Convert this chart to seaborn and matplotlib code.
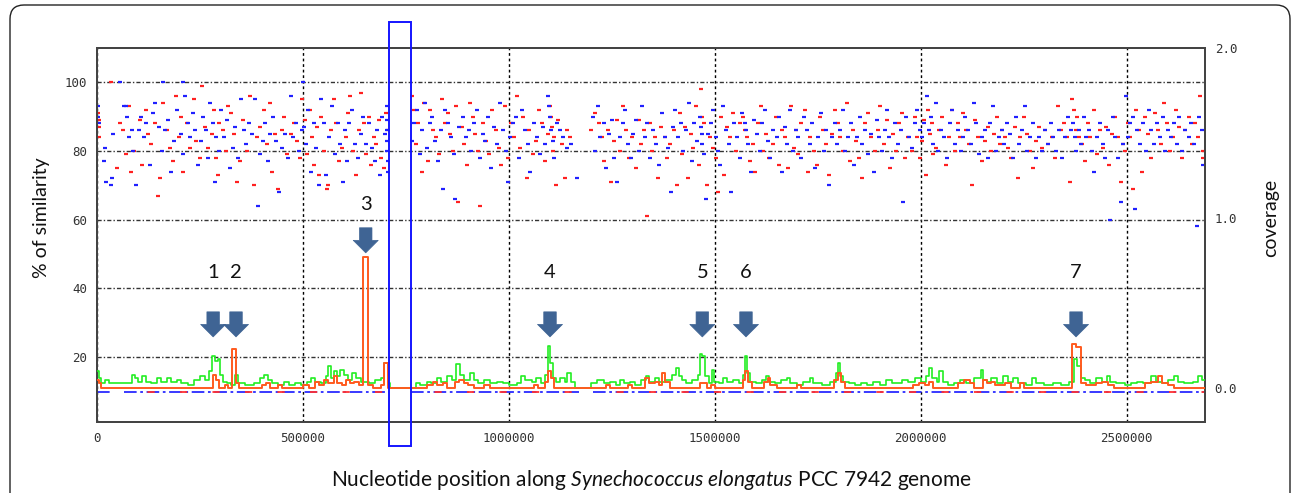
import numpy as np
import pandas as pd
import matplotlib
matplotlib.use("Agg")
import matplotlib.pyplot as plt
import matplotlib.transforms as mtransforms
from matplotlib.patches import FancyBboxPatch, Rectangle
import seaborn as sns

# ---------------- data (x in kb) ----------------
red_pts = [(3,91),(4,87),(5,84),(6,89),(35,100),(48,75),(55,88),(62,86),(70,79),(78,93),(82,74),(90,80),
 (105,89),(110,76),(118,92),(125,85),(132,82),(140,88),(148,67),(153,72),(160,94),(170,86),(178,81),(185,77),(192,96),(198,84),
 (205,90),(210,74),(218,88),(225,81),(235,95),(240,83),(250,78),(255,99),(262,87),(270,81),(278,85),(283,92),(288,78),(293,73),(297,88),
 (305,86),(312,80),(318,93),(325,91),(333,85),(340,71),(348,77),(355,89),(365,80),(372,96),(380,70),(388,84),(395,87),
 (405,92),(412,82),(420,94),(425,74),(432,85),(440,69),(448,86),(455,90),(462,79),(470,85),(478,88),(485,83),(492,78),(497,95),
 (505,89),(510,79),(518,92),(522,84),(528,76),(535,87),(540,73),(545,90),(552,80),(558,69),(562,70),(568,86),(575,95),(580,88),(588,77),(595,81),
 (605,84),(610,91),(615,96),(622,80),(628,73),(635,86),(642,97),(648,88),(652,79),(660,90),(665,76),(672,84),(678,82),(685,89),(690,78),(696,75),(702,91),(706,86),
 (765,96),(770,92),(775,82),(780,88),(788,74),(795,94),
 (803,77),(808,92),(815,86),(822,84),(830,79),(838,95),(845,88),(852,91),(858,85),(865,80),(872,93),(877,65),(885,87),(892,82),(898,76),
 (905,94),(912,90),(918,85),(925,80),(930,64),(938,88),(945,83),(952,79),(960,92),(968,86),(975,81),(982,76),(990,93),(997,78),
 (1005,88),(1012,84),(1020,96),(1028,81),(1035,90),(1043,72),(1050,86),(1058,79),(1065,83),(1072,92),(1080,88),(1088,77),(1095,85),(1099,93),(1102,90),(1105,87),
 (1108,80),(1110,84),(1115,70),(1120,89),(1128,82),(1135,72),(1140,86),(1148,84),(1200,86),
 (1210,91),(1218,88),(1225,84),(1232,77),(1240,86),(1248,71),(1255,83),(1262,89),(1270,80),(1278,93),(1285,86),(1292,78),
 (1300,84),(1308,75),(1315,89),(1320,82),(1328,86),(1335,61),(1342,88),(1348,80),(1355,84),(1362,72),(1370,87),(1378,84),(1385,78),(1392,82),
 (1400,86),(1408,70),(1415,91),(1420,79),(1428,87),(1435,72),(1442,85),(1448,81),(1455,93),(1462,76),(1466,98),(1470,90),(1474,88),(1480,70),(1488,84),(1495,81),
 (1503,78),(1508,68),(1515,90),(1522,73),(1530,87),(1538,84),(1545,91),(1552,80),(1560,88),(1568,90),(1573,86),(1578,84),(1585,77),(1592,82),(1598,74),
 (1605,88),(1612,93),(1618,80),(1625,85),(1632,78),(1640,82),(1648,90),(1655,76),(1662,86),(1670,84),(1678,75),(1685,93),(1692,81),(1698,86),
 (1703,79),(1710,88),(1718,92),(1725,74),(1732,84),(1740,80),(1748,76),(1755,90),(1762,86),(1770,82),(1778,73),(1785,85),(1792,92),(1798,88),
 (1805,84),(1812,80),(1820,94),(1828,77),(1835,86),(1842,83),(1850,78),(1858,72),(1865,88),(1872,91),(1880,84),(1888,80),(1895,86),
 (1902,93),(1910,82),(1918,89),(1925,75),(1932,85),(1940,80),(1948,88),(1955,91),(1962,78),(1970,84),(1978,80),(1985,90),(1992,84),(1998,78),
 (2003,83),(2008,89),(2012,73),(2018,92),(2022,85),(2026,88),(2030,79),(2038,81),(2045,86),(2052,90),(2060,76),(2068,84),(2075,92),(2082,80),(2090,88),(2096,84),
 (2103,91),(2110,86),(2118,82),(2125,70),(2132,89),(2140,84),(2148,77),(2155,83),(2162,87),(2170,80),(2178,85),(2185,90),(2192,82),(2198,86),
 (2205,84),(2212,81),(2220,78),(2228,87),(2235,72),(2242,84),(2250,90),(2258,85),(2265,80),(2272,75),(2280,83),(2288,87),(2295,81),
 (2302,86),(2310,82),(2318,84),(2325,78),(2332,93),(2340,86),(2348,88),(2355,84),(2362,71),(2368,95),(2372,92),(2376,86),(2380,90),(2385,84),(2392,82),(2398,77),
 (2405,88),(2412,84),(2420,92),(2428,79),(2435,86),(2442,81),(2450,87),(2458,76),(2465,85),(2472,90),(2478,84),(2485,71),(2490,82),(2495,80),
 (2502,88),(2508,84),(2515,69),(2522,92),(2530,86),(2538,74),(2545,90),(2552,85),(2560,78),(2568,91),(2575,86),(2582,82),(2590,94),(2598,88),
 (2605,80),(2612,84),(2620,92),(2628,87),(2635,78),(2642,86),(2650,90),(2658,82),(2665,88),(2672,84),(2678,96),(2684,80),(2686,78)]

blue_pts = [(2,93),(3,90),(4,88),(18,77),(20,81),(23,71),(35,70),(37,72),(40,85),(55,100),(65,93),(70,93),(72,90),(78,84),(85,86),(88,80),(95,70),
 (102,86),(108,90),(115,84),(120,88),(128,76),(135,91),(142,94),(150,87),(158,80),(160,100),(165,86),(172,89),(180,74),(188,83),(195,92),
 (203,85),(208,79),(210,100),(214,96),(220,88),(226,84),(232,91),(238,86),(245,76),(252,83),(258,90),(264,86),(270,78),(275,94),(282,88),(286,71),(290,84),(295,80),
 (302,92),(308,84),(315,89),(322,75),(330,81),(336,87),(342,78),(350,95),(356,86),(362,82),(370,88),(376,85),(384,95),(390,64),(396,79),
 (402,83),(408,88),(414,77),(420,85),(428,90),(435,83),(442,68),(450,81),(456,85),(463,78),(470,96),(476,84),(483,88),(490,80),(497,86),(500,100),
 (502,87),(507,82),(513,92),(520,74),(527,88),(532,81),(538,70),(545,95),(550,88),(556,73),(563,84),(570,93),(577,79),(584,88),(590,82),(597,71),
 (603,86),(608,77),(613,88),(620,92),(626,82),(633,78),(640,85),(646,90),(654,82),(660,88),(667,81),(674,77),(680,86),(686,73),(692,90),(698,85),
 (703,93),(704,89),(704,86),(705,83),(705,80),(706,77),(706,74),
 (765,83),(770,88),(778,92),(783,79),(790,86),(797,94),
 (802,81),(808,88),(814,90),(820,83),(828,77),(835,86),(840,69),(846,92),(853,88),(860,84),(866,79),(870,66),(880,87),(888,90),(895,84),
 (902,86),(909,80),(916,88),(922,92),(929,78),(936,85),(943,83),(950,90),(957,75),(964,87),(971,82),(978,94),(985,86),(992,80),(998,71),
 (1003,84),(1010,88),(1018,90),(1025,78),(1032,92),(1040,86),(1046,82),(1052,74),(1060,88),(1068,84),(1075,79),(1082,87),(1088,82),(1094,96),(1097,93),(1100,90),(1103,86),(1106,83),
 (1110,78),(1118,88),(1125,86),(1132,84),(1140,81),(1150,82),(1165,72),
 (1205,90),(1210,80),(1216,93),(1222,84),(1230,88),(1236,75),(1242,85),(1250,89),(1256,78),(1262,71),(1270,84),(1276,88),(1283,92),(1290,82),(1296,78),
 (1302,85),(1309,89),(1316,80),(1322,93),(1330,84),(1336,88),(1343,78),(1350,86),(1358,82),(1365,76),(1372,91),(1379,84),(1386,81),(1393,68),(1398,87),
 (1403,92),(1410,84),(1417,88),(1423,80),(1430,86),(1437,94),(1444,77),(1450,88),(1457,83),(1463,90),(1466,87),(1468,85),(1470,82),(1474,79),(1478,66),(1484,85),(1490,88),(1496,92),
 (1502,84),(1507,80),(1513,76),(1520,93),(1527,86),(1534,82),(1540,68),(1547,88),(1554,84),(1560,78),(1567,91),(1572,88),(1576,86),(1581,82),(1588,74),(1594,89),
 (1602,85),(1609,80),(1615,88),(1622,92),(1628,83),(1635,78),(1642,86),(1650,84),(1656,90),(1663,74),(1670,87),(1676,82),(1683,92),(1690,80),(1696,86),
 (1703,84),(1710,78),(1716,90),(1723,86),(1730,82),(1737,88),(1744,75),(1750,84),(1757,91),(1764,80),(1771,86),(1778,70),(1785,84),(1791,88),(1797,82),
 (1803,86),(1810,92),(1817,80),(1823,84),(1830,88),(1838,76),(1845,84),(1852,90),(1858,82),(1865,86),(1872,79),(1880,85),(1887,74),(1893,89),(1898,84),
 (1905,80),(1912,86),(1918,92),(1924,84),(1931,78),(1938,88),(1945,82),(1952,86),(1958,65),(1965,90),(1972,84),(1979,81),(1986,88),(1992,92),(1997,86),
 (2002,84),(2008,88),(2014,96),(2020,86),(2025,90),(2030,82),(2036,94),(2042,80),(2050,86),(2056,84),(2063,78),(2070,88),(2076,92),(2083,82),(2090,86),(2097,80),
 (2102,84),(2108,90),(2115,86),(2122,82),(2128,94),(2135,88),(2142,79),(2148,84),(2155,86),(2162,78),(2168,88),(2175,93),(2182,80),(2190,84),(2197,86),
 (2203,82),(2210,88),(2217,85),(2224,78),(2231,90),(2238,82),(2245,86),(2252,93),(2259,80),(2266,84),(2273,88),(2280,78),(2287,84),(2294,80),
 (2301,86),(2308,82),(2315,88),(2322,84),(2329,80),(2336,86),(2343,78),(2350,84),(2357,90),(2364,86),(2370,88),(2374,84),(2378,80),(2383,86),(2390,82),(2396,90),
 (2402,84),(2408,86),(2415,80),(2421,74),(2428,84),(2435,88),(2442,82),(2448,78),(2455,86),(2460,60),(2466,90),(2472,84),(2478,78),(2485,65),(2491,82),(2497,96),
 (2503,84),(2508,88),(2514,90),(2520,63),(2526,86),(2533,82),(2540,88),(2547,80),(2554,92),(2560,86),(2567,82),(2574,88),(2580,84),(2587,90),(2594,80),
 (2600,86),(2607,84),(2614,88),(2621,82),(2628,90),(2635,80),(2642,86),(2650,84),(2657,88),(2664,82),(2670,58),(2676,90),(2682,86),(2686,76)]

green_steps = [(0,0.10),(5,0.06),(10,0.03),(20,0.05),(30,0.03),(75,0.03),(85,0.08),(92,0.06),(100,0.04),(110,0.07),(118,0.04),(130,0.03),
 (145,0.06),(155,0.04),(170,0.06),(180,0.04),(195,0.05),(205,0.03),(220,0.02),(235,0.05),(250,0.07),(262,0.05),(272,0.10),(280,0.19),
 (287,0.16),(293,0.17),(298,0.08),(305,0.04),(315,0.03),(325,0.02),(335,0.08),(342,0.03),(360,0.02),(380,0.03),(395,0.06),(405,0.08),
 (415,0.05),(425,0.03),(440,0.02),(455,0.04),(465,0.02),(480,0.03),(495,0.02),(510,0.04),(520,0.06),(530,0.04),(545,0.03),(555,0.07),
 (562,0.13),(568,0.06),(575,0.10),(583,0.07),(590,0.11),(600,0.08),(610,0.05),(620,0.09),(628,0.06),(640,0.04),(660,0.03),(675,0.05),
 (690,0.06),(697,0.15),(706,0.03),(712,0.0),(762,0.0),(775,0.03),(785,0.02),(800,0.04),(810,0.03),(825,0.06),(835,0.04),(850,0.07),
 (862,0.05),(872,0.14),(882,0.08),(890,0.05),(905,0.09),(915,0.05),(925,0.03),(940,0.05),(955,0.03),(970,0.04),(985,0.03),(1000,0.02),
 (1020,0.03),(1030,0.07),(1040,0.05),(1055,0.04),(1065,0.06),(1078,0.03),(1088,0.08),(1095,0.25),(1101,0.15),(1106,0.06),(1115,0.04),
 (1125,0.06),(1135,0.04),(1140,0.09),(1150,0.04),(1160,0.0),(1200,0.03),(1215,0.05),(1230,0.03),(1245,0.04),(1260,0.02),(1270,0.05),
 (1280,0.03),(1295,0.04),(1305,0.02),(1320,0.05),(1332,0.07),(1340,0.04),(1355,0.06),(1365,0.04),(1380,0.05),(1395,0.08),(1405,0.12),
 (1412,0.07),(1420,0.05),(1430,0.03),(1445,0.05),(1458,0.08),(1463,0.20),(1470,0.19),(1476,0.07),(1485,0.03),(1492,0.11),(1498,0.04),
 (1510,0.03),(1520,0.06),(1530,0.04),(1545,0.05),(1558,0.03),(1568,0.08),(1574,0.19),(1579,0.09),(1585,0.04),(1600,0.03),(1615,0.05),
 (1625,0.07),(1632,0.04),(1645,0.03),(1660,0.05),(1675,0.06),(1683,0.03),(1700,0.02),(1715,0.04),(1730,0.06),(1738,0.03),(1760,0.02),
 (1780,0.04),(1795,0.09),(1799,0.15),(1804,0.07),(1812,0.04),(1825,0.03),(1840,0.02),(1855,0.03),(1870,0.02),(1885,0.04),(1900,0.02),
 (1915,0.05),(1930,0.03),(1955,0.05),(1970,0.04),(1985,0.06),(2000,0.04),(2012,0.07),(2020,0.12),(2028,0.06),(2040,0.04),(2045,0.10),
 (2053,0.04),(2065,0.02),(2080,0.03),(2095,0.05),(2110,0.03),(2130,0.06),(2145,0.11),(2152,0.05),(2160,0.04),(2170,0.06),(2185,0.03),
 (2200,0.07),(2212,0.04),(2225,0.06),(2235,0.03),(2255,0.02),(2270,0.06),(2280,0.03),(2300,0.02),(2320,0.03),(2340,0.02),(2360,0.04),
 (2372,0.17),(2380,0.13),(2388,0.06),(2398,0.05),(2410,0.03),(2425,0.06),(2440,0.04),(2452,0.07),(2460,0.04),(2475,0.03),(2495,0.02),
 (2510,0.03),(2525,0.04),(2540,0.03),(2560,0.07),(2570,0.04),(2585,0.03),(2600,0.05),(2615,0.07),(2625,0.04),(2640,0.03),(2660,0.04),
 (2672,0.07),(2682,0.05),(2690,0.05)]

orange_steps = [(0,0.05),(5,0.03),(10,0.0),(270,0.0),(282,0.08),(290,0.05),(296,0.0),(310,0.02),(318,0.0),(327,0.23),(338,0.03),(345,0.0),
 (400,0.02),(410,0.03),(420,0.0),(440,0.02),(450,0.0),(500,0.02),(515,0.0),(530,0.04),(540,0.02),(552,0.05),(560,0.03),(575,0.07),
 (582,0.03),(595,0.02),(605,0.05),(615,0.03),(625,0.04),(635,0.02),(646,0.77),(657,0.02),(670,0.0),(690,0.02),(697,0.15),(707,0.0),
 (800,0.02),(815,0.04),(825,0.02),(840,0.03),(850,0.0),(870,0.04),(880,0.05),(890,0.03),(900,0.02),(915,0.0),(940,0.02),(955,0.0),
 (1060,0.02),(1070,0.0),(1088,0.04),(1095,0.10),(1103,0.06),(1110,0.0),(1235,0.02),(1245,0.0),(1290,0.02),(1300,0.0),(1330,0.06),
 (1340,0.03),(1355,0.04),(1365,0.02),(1372,0.09),(1380,0.04),(1390,0.0),(1465,0.03),(1480,0.0),(1490,0.02),(1500,0.0),(1568,0.05),
 (1574,0.10),(1580,0.04),(1590,0.0),(1620,0.04),(1628,0.06),(1635,0.02),(1650,0.0),(1700,0.02),(1710,0.0),(1790,0.05),(1798,0.09),
 (1806,0.04),(1815,0.0),(1980,0.02),(1995,0.03),(2010,0.02),(2020,0.04),(2030,0.0),(2090,0.03),(2105,0.05),(2120,0.03),(2130,0.0),
 (2150,0.05),(2160,0.03),(2170,0.04),(2180,0.02),(2205,0.03),(2220,0.0),(2240,0.03),(2250,0.0),(2368,0.26),(2378,0.24),(2388,0.03),
 (2400,0.02),(2425,0.03),(2440,0.04),(2455,0.02),(2470,0.0),(2545,0.03),(2560,0.04),(2575,0.07),(2585,0.03),(2600,0.02),(2615,0.0),
 (2690,0.0)]

baseline_segments = [(0, 38), (65, 708), (762, 1170), (1205, 2690)]

marker_ids = ["1", "2", "3", "4", "5", "6", "7"]
marker_x = [282000, 337500, 652400, 1099800, 1469600, 1575600, 2376900]
marker_text_y = [44.6, 44.6, 64.4, 44.6, 44.6, 44.6, 44.6]
arrow_top = [33.1, 33.1, 57.6, 33.1, 33.1, 33.1, 33.1]
arrow_tip = [25.8, 25.8, 50.3, 25.8, 25.8, 25.8, 25.8]

x_ticks = [0, 500000, 1000000, 1500000, 2000000, 2500000]
y_ticks = [20, 40, 60, 80, 100]
cov_ticks = [0.0, 1.0, 2.0]
box_x = (709000, 762000)

# ---------------- figure ----------------
sns.set_theme(style="white")
plt.rcParams['font.family'] = ['Lato', 'DejaVu Sans']
plt.rcParams['mathtext.fontset'] = 'custom'
plt.rcParams['mathtext.rm'] = 'Lato'
plt.rcParams['mathtext.it'] = 'Lato:italic'

W, H = 1293, 493
fig = plt.figure(figsize=(W / 100, H / 100), dpi=100)
fig.patch.set_facecolor('white')
ax = fig.add_axes([97 / W, 1 - 422 / H, (1205 - 97) / W, (422 - 48) / H])
ax2 = ax.twinx()

red_df = pd.DataFrame(red_pts, columns=["kb", "sim"]); red_df["pos"] = red_df["kb"] * 1000
blue_df = pd.DataFrame(blue_pts, columns=["kb", "sim"]); blue_df["pos"] = blue_df["kb"] * 1000

sns.scatterplot(data=red_df, x="pos", y="sim", marker="_", s=9, linewidth=1.6,
                color="#ff2020", ax=ax, legend=False, zorder=3)
sns.scatterplot(data=blue_df, x="pos", y="sim", marker="_", s=9, linewidth=1.6,
                color="#2020ff", ax=ax, legend=False, zorder=3)

ax.set_xlim(0, 2690000)
ax.set_ylim(1, 110)
ax2.set_ylim(-0.198, 2.0)

ax.set_xticks(x_ticks)
ax.set_xticklabels([str(t) for t in x_ticks], fontfamily="DejaVu Sans Mono", fontsize=9, color="#333333")
ax.set_yticks(y_ticks)
ax.set_yticklabels([str(t) for t in y_ticks], fontfamily="DejaVu Sans Mono", fontsize=9, color="#333333")
ax2.set_yticks(cov_ticks)
ax2.set_yticklabels([f"{t:.1f}" for t in cov_ticks], fontfamily="DejaVu Sans Mono", fontsize=9, color="#333333")
ax.tick_params(axis="both", length=0, pad=7)
ax2.tick_params(axis="y", length=0, pad=7)

ax.xaxis.grid(True, color="black", linestyle=(0, (2, 2)), linewidth=1.0)
ax.yaxis.grid(True, color="#333333", linestyle=(0, (3, 1.5, 1, 1.5)), linewidth=1.0)
ax.set_axisbelow(True)

for a in (ax, ax2):
    for s in a.spines.values():
        s.set_color("#444444")
        s.set_linewidth(1.4)

# coverage step lines
g_df = pd.DataFrame(green_steps, columns=["kb", "cov"]); g_df["pos"] = g_df["kb"] * 1000
o_df = pd.DataFrame(orange_steps, columns=["kb", "cov"]); o_df["pos"] = o_df["kb"] * 1000
sns.lineplot(data=g_df, x="pos", y="cov", drawstyle="steps-post", color="#22ee22", linewidth=1.2,
             estimator=None, sort=False, ax=ax2, zorder=3)
sns.lineplot(data=o_df, x="pos", y="cov", drawstyle="steps-post", color="#ff5a1e", linewidth=1.4,
             estimator=None, sort=False, ax=ax2, zorder=4)

# baseline dash-dot line
rows = []
for i, (a0, a1) in enumerate(baseline_segments):
    rows.append((i, a0 * 1000, -0.02)); rows.append((i, a1 * 1000, -0.02))
b_df = pd.DataFrame(rows, columns=["seg", "pos", "cov"])
sns.lineplot(data=b_df, x="pos", y="cov", units="seg", estimator=None, color="#2a2aff",
             linewidth=1.3, linestyle=(0, (7, 2, 1.5, 2)), ax=ax2, zorder=2)
sns.lineplot(data=b_df, x="pos", y="cov", units="seg", estimator=None, color="#ff3030",
             linewidth=1.3, linestyle=(5, (4, 14)), ax=ax2, zorder=2)

ax2.set_xlim(0, 2690000)
ax.set_xlabel(""); ax.set_ylabel(""); ax2.set_xlabel(""); ax2.set_ylabel("")

# arrows and numbers
for lab, xm, ty, at, ap in zip(marker_ids, marker_x, marker_text_y, arrow_top, arrow_tip):
    ax2.annotate("", xy=(xm, ap), xytext=(xm, at), xycoords=ax.transData, textcoords=ax.transData,
                 arrowprops=dict(arrowstyle="simple,head_length=0.5,head_width=1.0,tail_width=0.5",
                                 fc="#3f6494", ec="#3f6494", lw=0.5, mutation_scale=18,
                                 shrinkA=0, shrinkB=0), zorder=6)
    ax2.text(xm, ty, lab, transform=ax.transData, ha="center", va="center", fontsize=14.5,
             color="#111111", zorder=6)

# highlighted region box
rect = Rectangle((box_x[0], -6.1), box_x[1] - box_x[0], 117.7 + 6.1, transform=ax.transData,
                 fill=False, ec="#1515ff", lw=1.4, clip_on=False, zorder=7)
ax2.add_patch(rect)

# axis titles
ax.set_ylabel("% of similarity", fontsize=14, color="#111111")
ax.yaxis.set_label_coords(-0.042, 0.545)
ax2.set_ylabel("coverage", fontsize=14, color="#111111")
ax2.yaxis.set_label_coords(1.052, 0.545)
fig.text(651 / W, 1 - 480 / H,
         r"Nucleotide position along $\mathit{Synechococcus\ elongatus}$ PCC 7942 genome",
         ha="center", va="center", fontsize=15, color="#111111")

# outer rounded frame
frame = FancyBboxPatch((10, -60), 1280, H - 5 + 60, boxstyle="round,pad=0,rounding_size=14",
                       transform=mtransforms.IdentityTransform(), fill=False, ec="#222222", lw=1.0)
fig.add_artist(frame)

fig.savefig("out.png", dpi=100)
